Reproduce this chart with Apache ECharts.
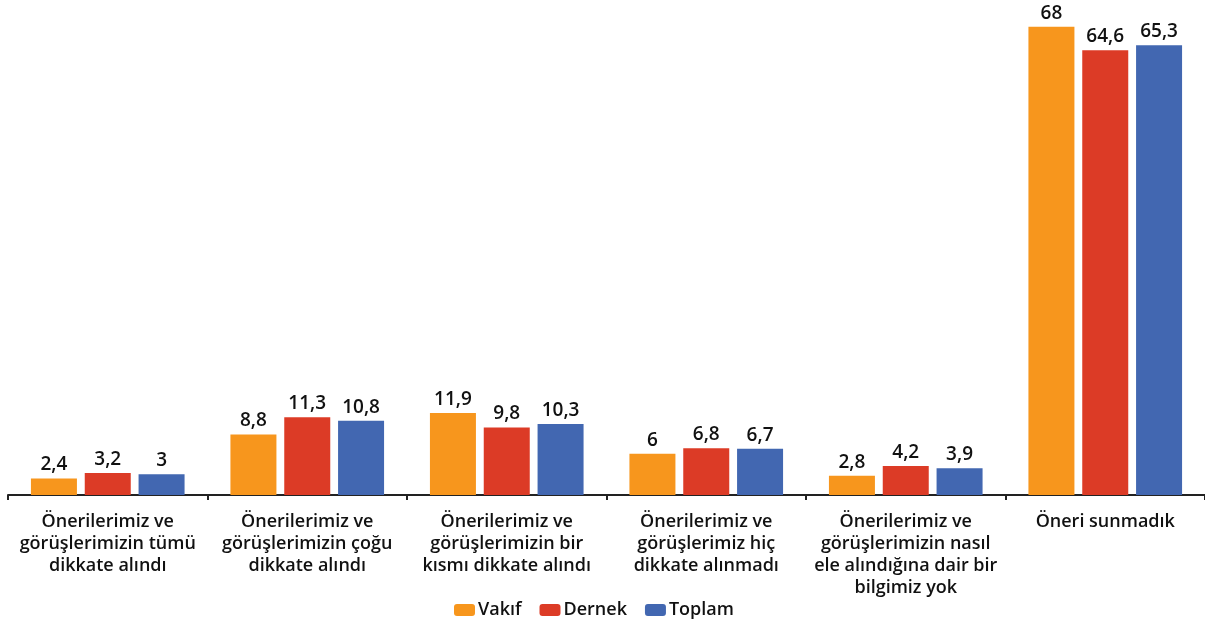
<!DOCTYPE html>
<html>
<head>
<meta charset="utf-8">
<script src="https://cdn.jsdelivr.net/npm/echarts@6/dist/echarts.min.js"></script>
<style>
  html, body { margin: 0; padding: 0; background: #fff; }
  #chart { width: 1205px; height: 624px; }
</style>
</head>
<body>
<div id="chart"></div>
<script>
// kategoriler
const categories = [
  'Önerilerimiz ve\ngörüşlerimizin tümü\ndikkate alındı',
  'Önerilerimiz ve\ngörüşlerimizin çoğu\ndikkate alındı',
  'Önerilerimiz ve\ngörüşlerimizin bir\nkısmı dikkate alındı',
  'Önerilerimiz ve\ngörüşlerimiz hiç\ndikkate alınmadı',
  'Önerilerimiz ve\ngörüşlerimizin nasıl\nele alındığına dair bir\nbilgimiz yok',
  'Öneri sunmadık'
]
const vakif = [2.4, 8.8, 11.9, 6, 2.8, 68]
const dernek = [3.2, 11.3, 9.8, 6.8, 4.2, 64.6]
const toplam = [3, 10.8, 10.3, 6.7, 3.9, 65.3]

const font = '"Open Sans", "Noto Sans", sans-serif'

const label = {
  show: true,
  position: 'top',
  distance: 4,
  color: '#111',
  fontSize: 19,
  fontWeight: 600,
  fontFamily: font,
  formatter: (p) => String(p.value).replace('.', ',')
}

function bar(name, data, color) {
  return {
    name,
    type: 'bar',
    data,
    barWidth: 46,
    barGap: '17%',
    itemStyle: { color },
    label
  }
}

const chart = echarts.init(document.getElementById('chart'))
chart.setOption({
  animation: false,
  grid: { left: 8, right: 0, top: 13, bottom: 129, containLabel: false },
  legend: {
    left: 449,
    bottom: 0,
    itemWidth: 21,
    itemHeight: 12,
    itemGap: 18,
    icon: 'roundRect',
    textStyle: { color: '#111', fontSize: 18, fontWeight: 600, fontFamily: font, padding: [0, 0, 0, -2] },
    data: ['Vakıf', 'Dernek', 'Toplam']
  },
  xAxis: {
    type: 'category',
    data: categories,
    axisLine: { lineStyle: { color: '#222', width: 2 } },
    axisTick: { show: true, length: 5, lineStyle: { color: '#222', width: 2 } },
    axisLabel: {
      interval: 0,
      color: '#111',
      fontSize: 18,
      fontWeight: 600,
      lineHeight: 22,
      margin: 16,
      fontFamily: font
    }
  },
  yAxis: {
    type: 'value',
    min: 0,
    max: 70,
    show: false,
    splitLine: { show: false }
  },
  series: [
    bar('Vakıf', vakif, '#F7961D'),
    bar('Dernek', dernek, '#DC3B26'),
    bar('Toplam', toplam, '#4267B1')
  ]
})
</script>
</body>
</html>
